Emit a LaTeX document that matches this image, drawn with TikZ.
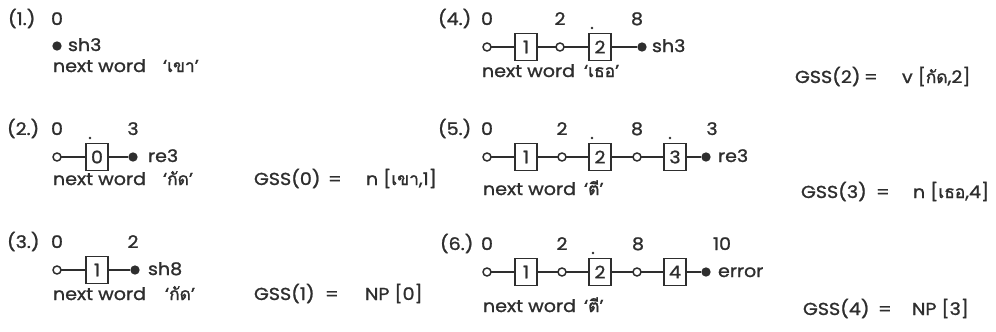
\documentclass[tikz,border=0pt]{standalone}
\usepackage{fontspec}
\setmainfont{Poppins}[FakeStretch=1.1,FakeBold=1.2]
\newfontfamily\thai[Script=Thai,FakeBold=1.5]{Loma}
\definecolor{ink}{HTML}{2E2E2E}
\begin{document}
\begin{tikzpicture}[x=0.75pt,y=-0.75pt,
  every node/.style={text=ink,inner sep=0pt,outer sep=0pt},
  txt/.style={font=\fontsize{13}{15}\selectfont,anchor=base west},
  num/.style={font=\fontsize{13}{15}\selectfont,anchor=base},
  opn/.style={circle,draw=ink,line width=1.1pt,minimum size=6pt,fill=white},
  fdot/.style={circle,fill=ink,minimum size=7pt},
  pdot/.style={circle,fill=ink,minimum size=2.2pt},
  sbox/.style={draw=ink,line width=1.2pt,minimum width=16.5pt,minimum height=20.5pt,font=\fontsize{13}{15}\selectfont},
  conn/.style={draw=ink,line width=1pt}]
\useasboundingbox (0,0) rectangle (996,332);
% ---------- (1.)
\node[txt] (l1) at (8,25) {(1.)};
\node[num] (n10) at (57,25) {0};
\node[fdot] (f1) at (57,46) {};
\node[txt] (s1) at (68,51) {sh3};
\node[txt] (w1) at (53,72) {next word};
\node[txt] (q1) at (163,72) {‘{\thai เขา}’};
% ---------- (2.)
\node[txt] (l2) at (7,135) {(2.)};
\node[num] (n20) at (57,135) {0};
\node[pdot] (d2) at (90,138) {};
\node[num] (n23) at (133,135) {3};
\node[opn] (c2) at (57,157) {};
\node[sbox] (b2) at (97,157) {0};
\node[fdot] (f2) at (133,157) {};
\draw[conn] (c2) -- (b2);
\draw[conn] (b2) -- (f2);
\node[txt] (s2) at (148,162) {re3};
\node[txt] (w2) at (53,185) {next word};
\node[txt] (q2) at (163,185) {‘{\thai กัด}’};
\node[txt] (g2) at (254,185) {GSS(0)};
\node[txt] (e2) at (328,185) {=};
\node[txt] (v2) at (366,185) {n [{\thai เขา},1]};
% ---------- (3.)
\node[txt] (l3) at (7,248) {(3.)};
\node[num] (n30) at (57,248) {0};
\node[num] (n32) at (133,248) {2};
\node[opn] (c3) at (57,270) {};
\node[sbox] (b3) at (97,270) {1};
\node[fdot] (f3) at (135,270) {};
\draw[conn] (c3) -- (b3);
\draw[conn] (b3) -- (f3);
\node[txt] (s3) at (148,275) {sh8};
\node[txt] (w3) at (53,300) {next word};
\node[txt] (q3) at (165,300) {‘{\thai กัด}’};
\node[txt] (g3) at (254,300) {GSS(1)};
\node[txt] (e3) at (325,300) {=};
\node[txt] (v3) at (365,300) {NP [0]};
% ---------- (4.)
\node[txt] (l4) at (438,25) {(4.)};
\node[num] (n40) at (487,25) {0};
\node[num] (n42) at (560,25) {2};
\node[pdot] (d4) at (592,28) {};
\node[num] (n48) at (637,25) {8};
\node[opn] (c41) at (487,47) {};
\node[sbox] (b41) at (526,47) {1};
\node[opn] (c42) at (560,47) {};
\node[sbox] (b42) at (600,47) {2};
\node[fdot] (f4) at (642,47) {};
\draw[conn] (c41) -- (b41);
\draw[conn] (b41) -- (c42);
\draw[conn] (c42) -- (b42);
\draw[conn] (b42) -- (f4);
\node[txt] (s4) at (652,52) {sh3};
\node[txt] (w4) at (482,77) {next word};
\node[txt] (q4) at (584,77) {‘{\thai เธอ}’};
\node[txt] (g4) at (795,83) {GSS(2)};
\node[txt] (e4) at (864,83) {=};
\node[txt] (v4) at (902,83) {v [{\thai กัด},2]};
% ---------- (5.)
\node[txt] (l5) at (438,135) {(5.)};
\node[num] (n50) at (487,135) {0};
\node[num] (n52) at (562,135) {2};
\node[pdot] (d51) at (592,138) {};
\node[num] (n58) at (637,135) {8};
\node[pdot] (d52) at (670,138) {};
\node[num] (n53) at (712,135) {3};
\node[opn] (c51) at (487,157) {};
\node[sbox] (b51) at (526,157) {1};
\node[opn] (c52) at (562,157) {};
\node[sbox] (b52) at (600,157) {2};
\node[opn] (c53) at (637,157) {};
\node[sbox] (b53) at (675,157) {3};
\node[fdot] (f5) at (706,157) {};
\draw[conn] (c51) -- (b51);
\draw[conn] (b51) -- (c52);
\draw[conn] (c52) -- (b52);
\draw[conn] (b52) -- (c53);
\draw[conn] (c53) -- (b53);
\draw[conn] (b53) -- (f5);
\node[txt] (s5) at (718,162) {re3};
\node[txt] (w5) at (483,195) {next word};
\node[txt] (q5) at (584,195) {‘{\thai ตี}’};
\node[txt] (g5) at (801,198) {GSS(3)};
\node[txt] (e5) at (876,198) {=};
\node[txt] (v5) at (913,198) {n [{\thai เธอ},4]};
% ---------- (6.)
\node[txt] (l6) at (440,250) {(6.)};
\node[num] (n60) at (487,250) {0};
\node[num] (n62) at (562,250) {2};
\node[pdot] (d6) at (593,253) {};
\node[num] (n68) at (638,250) {8};
\node[num] (n610) at (722,250) {10};
\node[opn] (c61) at (487,272) {};
\node[sbox] (b61) at (526,272) {1};
\node[opn] (c62) at (562,272) {};
\node[sbox] (b62) at (600,272) {2};
\node[opn] (c63) at (637,272) {};
\node[sbox] (b63) at (675,272) {4};
\node[fdot] (f6) at (706,272) {};
\draw[conn] (c61) -- (b61);
\draw[conn] (b61) -- (c62);
\draw[conn] (c62) -- (b62);
\draw[conn] (b62) -- (c63);
\draw[conn] (c63) -- (b63);
\draw[conn] (b63) -- (f6);
\node[txt] (s6) at (718,277) {error};
\node[txt] (w6) at (483,312) {next word};
\node[txt] (q6) at (584,312) {‘{\thai ตี}’};
\node[txt] (g6) at (803,315) {GSS(4)};
\node[txt] (e6) at (878,315) {=};
\node[txt] (v6) at (912,315) {NP [3]};
\end{tikzpicture}
\end{document}
